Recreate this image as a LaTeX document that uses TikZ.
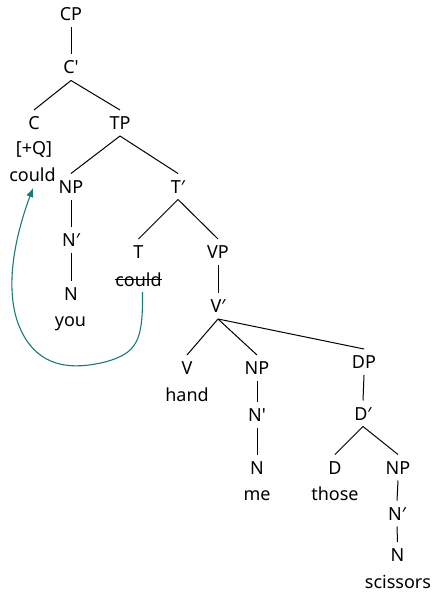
\documentclass[tikz,border=0pt]{standalone}
\usepackage{fontspec}
\newfontfamily\treefont{Noto Sans}
\usetikzlibrary{arrows.meta}
\definecolor{moveteal}{HTML}{1A7A78}
\tikzset{
  cat/.style={font=\treefont\fontsize{18}{21}\selectfont, inner sep=0pt, outer sep=6.5pt,
    text height=13pt, text depth=0pt, anchor=base},
  word/.style={font=\treefont\fontsize{18}{21}\selectfont, inner sep=0pt, anchor=base},
  branch/.style={line width=1pt, black},
  movement/.style={line width=1.1pt, moveteal, -{Latex[length=9pt,width=7.5pt]}}
}
\begin{document}
\begin{tikzpicture}[x=1pt,y=-1pt]
\useasboundingbox (0,0) rectangle (435,594);
% categories
\node[cat] (CP) at (71,21) {CP};
\node[cat] (Cb) at (71,74) {C'};
\node[cat] (C) at (34,129.5) {C};
\node[cat] (TP) at (120,129.5) {TP};
\node[word] (Q) at (34,154) {[+Q]};
\node[word] (cC) at (32.5,181.5) {could};
\node[cat] (NP1) at (71,193) {NP};
\node[cat] (Tb) at (178,193) {T′};
\node[cat] (N1b) at (71,246) {N′};
\node[cat] (N1) at (71,300) {N};
\node[word] (you) at (70.5,326) {you};
\node[cat] (T) at (138.5,258.5) {T};
\node[word] (cs) at (138.5,286) {could};
\node[cat] (VP) at (218,258.5) {VP};
\node[cat] (Vb) at (218,312.5) {V′};
\node[cat] (V) at (187,374.5) {V};
\node[word] (hand) at (187,401.5) {hand};
\node[cat] (NP2) at (257,374.5) {NP};
\node[cat] (N2b) at (257,421) {N'};
\node[cat] (N2) at (257,474) {N};
\node[word] (me) at (257,500) {me};
\node[cat] (DP) at (364,368.5) {DP};
\node[cat] (Db) at (363,420) {D′};
\node[cat] (D) at (335,474) {D};
\node[word] (those) at (335,500) {those};
\node[cat] (NP3) at (398,474) {NP};
\node[cat] (N3b) at (397,520) {N′};
\node[cat] (N3) at (397.5,561.5) {N};
\node[word] (sc) at (398,588) {scissors};
% branches
\draw[branch] (CP.south) -- (Cb.north);
\draw[branch] (Cb.south) -- (C.north);
\draw[branch] (Cb.south) -- (TP.north);
\draw[branch] (TP.south) -- (NP1.north);
\draw[branch] (TP.south) -- (Tb.north);
\draw[branch] (NP1.south) -- (N1b.north);
\draw[branch] (N1b.south) -- (N1.north);
\draw[branch] (Tb.south) -- (T.north);
\draw[branch] (Tb.south) -- (VP.north);
\draw[branch] (VP.south) -- (Vb.north);
\draw[branch] (Vb.south) -- (V.north);
\draw[branch] (Vb.south) -- (NP2.north);
\draw[branch] (Vb.south) -- (DP.north);
\draw[branch] (NP2.south) -- (N2b.north);
\draw[branch] (N2b.south) -- (N2.north);
\draw[branch] (DP.south) -- (Db.north);
\draw[branch] (Db.south) -- (D.north);
\draw[branch] (Db.south) -- (NP3.north);
\draw[branch] (NP3.south) -- (N3b.north);
\draw[branch] (N3b.south) -- (N3.north);
% strike-through
\draw[line width=0.9pt] ([yshift=6.5pt]cs.base west) -- ([yshift=6.5pt]cs.base east);
% movement arrow
\coordinate (mstart) at (142.5,292);
\coordinate (mbot) at (105,362);
\coordinate (mleft) at (30,345);
\coordinate (mtip) at (33,188);
\draw[movement] (mstart) .. controls (143,340) and (138,353) .. (mbot)
  .. controls (80,368) and (50,370) .. (mleft)
  .. controls (2,310) and (10,250) .. (mtip);
\end{tikzpicture}
\end{document}
